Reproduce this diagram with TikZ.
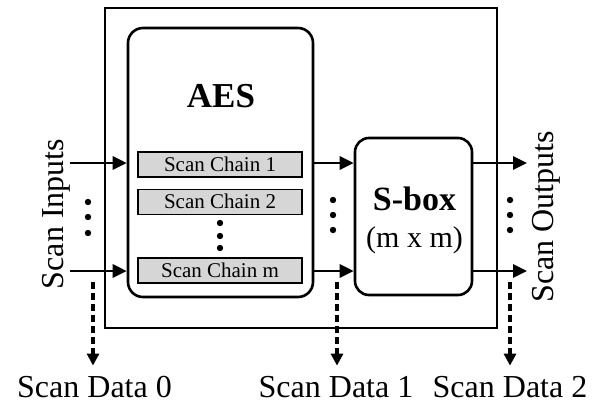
\documentclass[tikz,border=0pt]{standalone}
\usepackage{fontspec}
\setmainfont{Liberation Serif}
\usetikzlibrary{positioning,arrows.meta}
\definecolor{chaingray}{RGB}{214,214,214}

\begin{document}
\begin{tikzpicture}[
  x=1pt, y=-1pt,
  node distance=11pt,
  every node/.style={inner sep=0pt},
  lbl/.style={font=\fontsize{32}{36}\selectfont},
  blockbox/.style={draw, line width=2.6pt, rounded corners=15pt},
  chainbox/.style={draw, line width=1.2pt, fill=chaingray, minimum width=164pt, minimum height=25pt, font=\fontsize{21}{24}\selectfont},
  arr/.style={-{Triangle[length=14pt,width=13pt]}, line width=2.8pt},
  dasharr/.style={-{Triangle[length=12pt,width=12pt]}, line width=3.4pt, dash pattern=on 7pt off 4pt}
]
\useasboundingbox (0,0) rectangle (597,405);

% chip frame and blocks
\node[draw, line width=2.4pt, minimum width=392pt, minimum height=320pt] (chip) at (301,168) {};
\node[blockbox, minimum width=185pt, minimum height=269pt] (aes) at (220.5,162.5) {};
\node[blockbox, rounded corners=14pt, minimum width=117pt, minimum height=157pt] (sbox) at (413.5,216.5) {};

\node[font=\fontsize{35}{40}\selectfont\bfseries] (aestitle) at (221,96.5) {AES};
\node[font=\fontsize{34}{40}\selectfont\bfseries] (sboxtitle) at (414.5,198.5) {S-box};
\node[font=\fontsize{30}{36}\selectfont] (sboxsize) at (414.5,240.5) {(m x m)};

% scan chains
\node[chainbox] (chain1) at (220,164.5) {Scan Chain 1};
\node[chainbox, below=11pt of chain1] (chain2) {Scan Chain 2};
\node[chainbox] (chainm) at (220,270.5) {Scan Chain m};

% side labels
\node[lbl, rotate=90] (scanin) at (56,214) {Scan Inputs};
\node[lbl, rotate=90] (scanout) at (546,217) {Scan Outputs};
\node[lbl, anchor=base] (data0) at (94.5,397) {Scan Data 0};
\node[lbl, anchor=base] (data1) at (336,397) {Scan Data 1};
\node[lbl, anchor=base] (data2) at (510,397) {Scan Data 2};

% free ends
\coordinate (in1) at (70,163);
\coordinate (inm) at (70,271);
\coordinate (out1) at (527,163);
\coordinate (outm) at (527,271);
\coordinate (tap0) at (93,282);
\coordinate (tap1) at (337,282);
\coordinate (tap2) at (510,282);

\draw[arr] (in1) -- (in1 -| aes.west);
\draw[arr] (inm) -- (inm -| aes.west);
\draw[arr] (aes.east |- in1) -- (sbox.west |- in1);
\draw[arr] (aes.east |- inm) -- (sbox.west |- inm);
\draw[arr] (sbox.east |- out1) -- (out1);
\draw[arr] (sbox.east |- outm) -- (outm);

\draw[dasharr, shorten >=10pt] (tap0) -- (tap0 |- data0.north);
\draw[dasharr, shorten >=10pt] (tap1) -- (tap1 |- data1.north);
\draw[dasharr, shorten >=10pt] (tap2) -- (tap2 |- data2.north);

% ellipsis dots
\foreach \y in {202,217,233} \fill (88,\y) circle (3.2pt);
\foreach \y in {200,215,230} {
  \fill (333,\y) circle (3.2pt);
  \fill (510,\y) circle (3.2pt);
}
\foreach \y in {223,236,248} \fill (220,\y) circle (3.2pt);
\end{tikzpicture}
\end{document}
